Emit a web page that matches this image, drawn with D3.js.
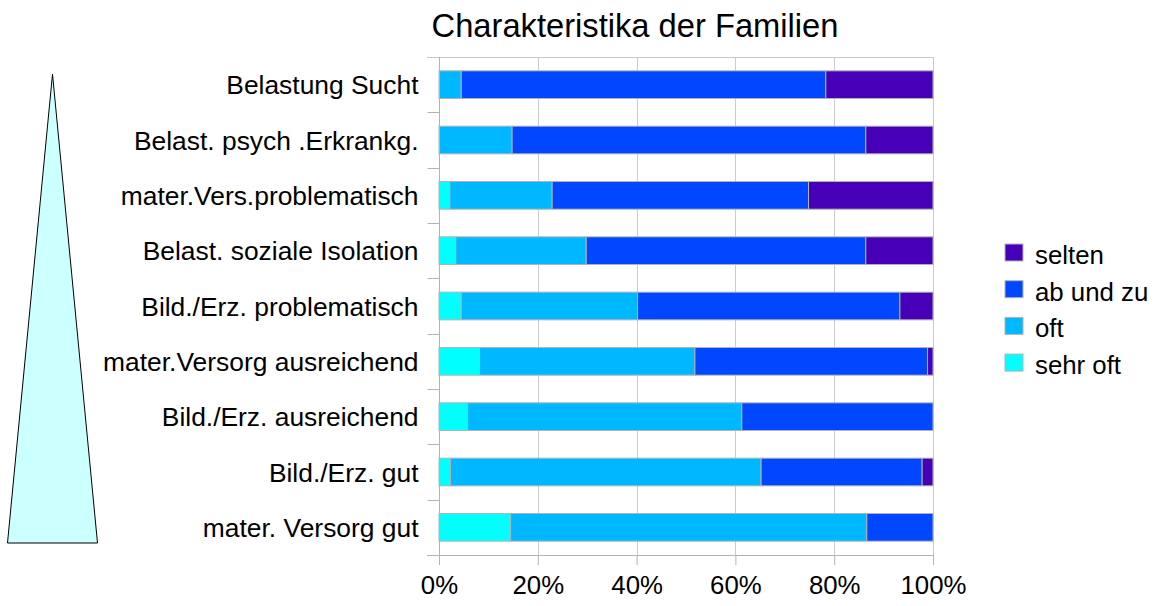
<!DOCTYPE html>
<html>
<head>
<meta charset="utf-8">
<script src="https://cdn.jsdelivr.net/npm/d3@7"></script>
<style>
  html, body { margin: 0; padding: 0; background: #fff; }
  svg { display: block; }
  text { font-family: "Liberation Sans", Arial, sans-serif; fill: #000; }
</style>
</head>
<body>
<svg id="chart" width="1153" height="606"></svg>
<script>
// ---- data (top to bottom) ----
const categories = [
  "Belastung Sucht",
  "Belast. psych .Erkrankg.",
  "mater.Vers.problematisch",
  "Belast. soziale Isolation",
  "Bild./Erz. problematisch",
  "mater.Versorg ausreichend",
  "Bild./Erz. ausreichend",
  "Bild./Erz. gut",
  "mater. Versorg gut"
];
const sehrOft = [0, 0, 2.2, 3.4, 4.5, 8.2, 5.8, 2.3, 14.5];
const oft     = [4.5, 14.8, 20.7, 26.4, 35.7, 43.6, 55.5, 62.9, 72.1];
const abUndZu = [73.8, 71.6, 51.9, 56.6, 53.1, 47.1, 38.7, 32.6, 13.4];
const selten  = [21.7, 13.6, 25.2, 13.6, 6.7, 1.1, 0, 2.2, 0];
const seriesNames = ["sehr oft", "oft", "ab und zu", "selten"];
const seriesColors = ["#00ffff", "#00b8ff", "#0047ff", "#4700b8"];
const tickValues = [0, 0.2, 0.4, 0.6, 0.8, 1.0];
const title = "Charakteristika der Familien";

(function () {
// ---- build table ----
const rows = categories.map((c, i) => ({
  cat: c, "sehr oft": sehrOft[i], "oft": oft[i], "ab und zu": abUndZu[i], "selten": selten[i]
}));
rows.forEach(r => {
  const t = seriesNames.reduce((s, k) => s + r[k], 0);
  seriesNames.forEach(k => r[k] = r[k] / t);
});
const stacked = d3.stack().keys(seriesNames)(rows);

const svg = d3.select("#chart");
const pL = 439, pR = 933, pT = 57, pB = 555;

const x = d3.scaleLinear().domain([0, 1]).range([pL, pR]);
const y = d3.scaleBand().domain(categories).range([pT, pB]).paddingInner(0.5).paddingOuter(0.25);
const yBand = d3.scaleBand().domain(categories).range([pT, pB]);

// title
svg.append("text").attr("x", 635).attr("y", 37).attr("text-anchor", "middle")
  .style("font-size", "32.7px").text(title);

// triangle
svg.append("polygon")
  .attr("points", [[52.5, 74], [97.5, 543], [7.5, 543]].map(p => p.join(",")).join(" "))
  .attr("fill", "#ccffff").attr("stroke", "#000").attr("stroke-width", 1);

// gridlines
svg.append("g").selectAll("line").data(tickValues.slice(1, -1)).join("line")
  .attr("x1", d => Math.round(x(d)) + 0.5).attr("x2", d => Math.round(x(d)) + 0.5)
  .attr("y1", pT).attr("y2", pB)
  .attr("stroke", "#cccccc").attr("stroke-width", 1);

// frame: top, right
svg.append("line").attr("x1", pL - 12).attr("x2", pR + 0.5).attr("y1", pT + 0.5).attr("y2", pT + 0.5)
  .attr("stroke", "#c8c8c8");
svg.append("line").attr("x1", pR + 0.5).attr("x2", pR + 0.5).attr("y1", pT).attr("y2", pB)
  .attr("stroke", "#c8c8c8");

// bars
svg.append("g").selectAll("g").data(stacked).join("g")
  .attr("fill", (d, i) => seriesColors[i])
  .selectAll("rect").data(d => d.filter(s => s[1] - s[0] > 0)).join("rect")
  .attr("x", d => x(d[0]))
  .attr("width", d => x(d[1]) - x(d[0]))
  .attr("y", d => y(d.data.cat))
  .attr("height", y.bandwidth())
  .attr("stroke", "#b3b3b3").attr("stroke-width", 1);

// y axis
const yAxis = svg.append("g").attr("transform", `translate(${pL + 0.5},0)`);
yAxis.append("line").attr("x1", 0).attr("x2", 0).attr("y1", pT).attr("y2", pB).attr("stroke", "#b3b3b3");
yAxis.selectAll("line.tk").data(categories.slice(1)).join("line").attr("class", "tk")
  .attr("x1", -12).attr("x2", 0)
  .attr("y1", d => Math.round(yBand(d)) + 0.5).attr("y2", d => Math.round(yBand(d)) + 0.5)
  .attr("stroke", "#b3b3b3");
yAxis.selectAll("text").data(categories).join("text")
  .attr("x", -21).attr("y", d => yBand(d) + yBand.bandwidth() / 2 + 9.5)
  .attr("text-anchor", "end").style("font-size", "26.4px").text(d => d);

// x axis
const xAxis = svg.append("g").attr("transform", `translate(0,${pB})`)
  .call(d3.axisBottom(x).tickValues(tickValues).tickFormat(d3.format(".0%")).tickSizeInner(10).tickSizeOuter(0).tickPadding(11));
xAxis.select(".domain").remove();
xAxis.append("line").attr("x1", pL - 12).attr("x2", pR + 0.5).attr("y1", 0.5).attr("y2", 0.5).attr("stroke", "#b3b3b3");
xAxis.selectAll(".tick line").attr("stroke", "#b3b3b3");
xAxis.selectAll(".tick text").style("font-size", "25.8px").attr("fill", "#000")
  .style("font-family", "Liberation Sans, Arial, sans-serif");

// legend
const legendOrder = [3, 2, 1, 0];
const lg = svg.append("g").selectAll("g").data(legendOrder).join("g")
  .attr("transform", (d, i) => `translate(1005,${244 + i * 36.7})`);
lg.append("rect").attr("width", 18).attr("height", 17)
  .attr("fill", d => seriesColors[d]).attr("stroke", "#b3b3b3");
lg.append("text").attr("x", 30).attr("y", 20).style("font-size", "25.8px").text(d => seriesNames[d]);
})();
</script>
</body>
</html>
